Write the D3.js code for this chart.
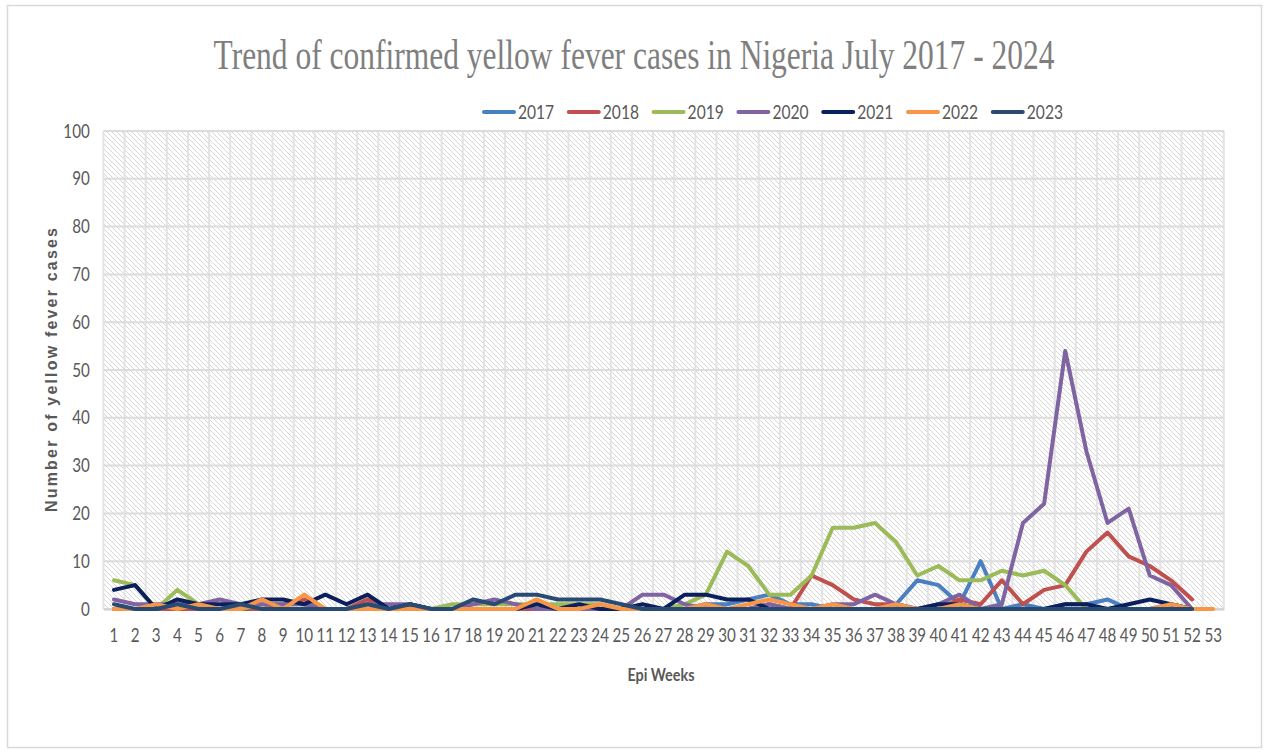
<!DOCTYPE html>
<html><head><meta charset="utf-8">
<script src="https://cdn.jsdelivr.net/npm/d3@7"></script>
<style>body{margin:0;background:#fff}</style>
</head><body>
<svg id="chart" width="1266" height="753"></svg>
<script>
const weeks = d3.range(1, 54);
const seriesNames = ["2017", "2018", "2019", "2020", "2021", "2022", "2023"];
const yTicks = [0, 10, 20, 30, 40, 50, 60, 70, 80, 90, 100];
const N = null;
const s2017 = [N,N,N,N,N,N,N,N,N,N,N,N,N,N,N,N,N,N,N,N,N,N,N,N,N,N,
  0,0,1,1,2,3,1,1,0,0,0,1,6,5,1,10,0,1,0,1,1,2,0,0,1,0,N];
const s2018 = [0,0,0,0,0,0,0,0,1,2,0,0,2,0,0,0,0,0,0,0,0,0,0,0,0,0,
  0,0,1,0,0,1,0,7,5,2,1,1,0,0,2,1,6,1,4,5,12,16,11,9,6,2,N];
const s2019 = [6,5,0,4,1,0,0,1,1,1,0,0,0,0,0,0,1,1,1,1,1,1,1,1,0,0,
  0,1,3,12,9,3,3,7,17,17,18,14,7,9,6,6,8,7,8,5,0,N,N,N,N,N,N];
const s2020 = [2,1,1,1,1,2,1,1,1,1,0,0,1,1,1,0,0,1,2,1,0,0,0,0,0,3,
  3,1,0,0,0,1,0,0,1,1,3,1,0,1,3,0,1,18,22,54,33,18,21,7,5,0,N];
const s2021 = [4,5,0,2,1,1,1,2,2,1,3,1,3,0,1,0,0,0,0,0,1,0,1,0,0,1,
  0,3,3,2,2,0,0,0,0,0,0,0,0,1,1,0,0,0,0,1,1,0,1,2,1,0,N];
const s2022 = [0,0,1,0,1,0,0,2,0,3,0,0,0,0,0,0,0,0,0,0,2,0,0,1,0,0,
  0,0,1,0,1,2,1,0,1,0,0,1,0,0,1,0,0,0,0,0,0,0,0,0,1,0,0];
const s2023 = [1,0,0,1,0,0,1,0,0,0,0,0,1,0,1,0,0,2,1,3,3,2,2,2,1,0,
  0,0,0,0,0,0,0,0,0,0,0,0,0,0,0,0,0,0,0,0,0,0,0,0,0,0,N];
const seriesValues = [s2017, s2018, s2019, s2020, s2021, s2022, s2023];
const colors = ["#4a7fc1", "#c0504d", "#9bbb59", "#8064a2", "#0b1f5c", "#f79646", "#294a72"];

const svg = d3.select("#chart");
const m = {left: 103.4, right: 1223.8, top: 131, bottom: 609};

// outer frame
svg.append("rect").attr("x", 7.5).attr("y", 5.5).attr("width", 1254).attr("height", 742)
  .attr("fill", "#fff").attr("stroke", "#d9d9d9").attr("stroke-width", 1.5);

const defs = svg.append("defs");
const pat = defs.append("pattern").attr("id", "hatch").attr("patternUnits", "userSpaceOnUse")
  .attr("width", 5).attr("height", 5);
pat.append("rect").attr("width", 5).attr("height", 5).attr("fill", "#ffffff");
pat.append("path").attr("d", "M-1,-1 L6,6 M-1,4 L1,6 M4,-1 L6,1")
  .attr("stroke", "#d6d6d6").attr("stroke-width", 1);

const x = d3.scaleBand().domain(weeks).range([m.left, m.right]).padding(0);
const y = d3.scaleLinear().domain([0, 100]).range([m.bottom, m.top]);

svg.append("rect").attr("x", m.left).attr("y", m.top)
  .attr("width", m.right - m.left).attr("height", m.bottom - m.top).attr("fill", "url(#hatch)");

// gridlines
const grid = svg.append("g");
grid.selectAll("line.v").data(weeks.concat([54])).join("line")
  .attr("x1", d => d === 54 ? m.right : x(d)).attr("x2", d => d === 54 ? m.right : x(d))
  .attr("y1", m.top).attr("y2", m.bottom)
  .attr("stroke", "#e3e3e3").attr("stroke-width", 2);
grid.selectAll("line.h").data(yTicks).join("line")
  .attr("x1", m.left).attr("x2", m.right)
  .attr("y1", d => y(d)).attr("y2", d => y(d))
  .attr("stroke", "#dcdcdc").attr("stroke-width", 2);

// axes
const yAxis = svg.append("g").attr("transform", `translate(${m.left},0)`)
  .call(d3.axisLeft(y).tickValues(yTicks).tickSize(0).tickPadding(14));
yAxis.select(".domain").remove();
yAxis.selectAll("text").attr("font-family", "Lato, sans-serif").attr("font-size", 19)
  .attr("fill", "#595959").attr("transform", "scale(0.8,1)").attr("dx", -3);

const xAxis = svg.append("g").attr("transform", `translate(0,${m.bottom})`)
  .call(d3.axisBottom(x).tickSize(0).tickPadding(20));
xAxis.select(".domain").attr("stroke", "#d0d0d0").attr("stroke-width", 2);
xAxis.selectAll("text").attr("font-family", "Lato, sans-serif").attr("font-size", 19)
  .attr("fill", "#595959").attr("transform", "scale(0.8,1)");

// lines
const line = d3.line().defined(d => d.v !== null)
  .x(d => x(d.w) + x.bandwidth() / 2).y(d => y(d.v));
const lg = svg.append("g");
seriesValues.forEach((vals, i) => {
  const data = weeks.map((w, k) => ({w: w, v: vals[k]}));
  lg.append("path").datum(data).attr("d", line).attr("fill", "none")
    .attr("stroke", colors[i]).attr("stroke-width", 4)
    .attr("stroke-linejoin", "round").attr("stroke-linecap", "round");
});

// title
svg.append("g").attr("transform", "translate(634,69) scale(0.75,1)")
  .append("text").attr("x", 0).attr("y", 0).attr("text-anchor", "middle")
  .attr("font-family", "Liberation Serif, serif").attr("font-size", 42).attr("fill", "#7f7f7f")
  .text("Trend of confirmed yellow fever cases in Nigeria July 2017 - 2024");

// legend
const leg = svg.append("g");
seriesNames.forEach((n, i) => {
  const lx = 484 + i * 84.8;
  leg.append("line").attr("x1", lx).attr("x2", lx + 30).attr("y1", 112).attr("y2", 112)
    .attr("stroke", colors[i]).attr("stroke-width", 4).attr("stroke-linecap", "round");
  leg.append("g").attr("transform", `translate(${lx + 34},119) scale(0.78,1)`)
    .append("text").attr("x", 0).attr("y", 0)
    .attr("font-family", "Lato, sans-serif").attr("font-size", 20).attr("fill", "#595959")
    .text(n);
});

// axis titles
svg.append("text").attr("transform", "translate(57,370) rotate(-90)").attr("text-anchor", "middle")
  .attr("font-family", "Liberation Sans, Arial, sans-serif").attr("font-weight", "bold")
  .attr("font-size", 16).attr("fill", "#595959")
  .attr("textLength", 284).attr("lengthAdjust", "spacing")
  .text("Number of yellow fever cases");
svg.append("g").attr("transform", "translate(661,681) scale(0.85,1)")
  .append("text").attr("x", 0).attr("y", 0).attr("text-anchor", "middle")
  .attr("font-family", "Lato, sans-serif").attr("font-weight", "bold")
  .attr("font-size", 17).attr("fill", "#595959")
  .text("Epi Weeks");
</script>
</body></html>
